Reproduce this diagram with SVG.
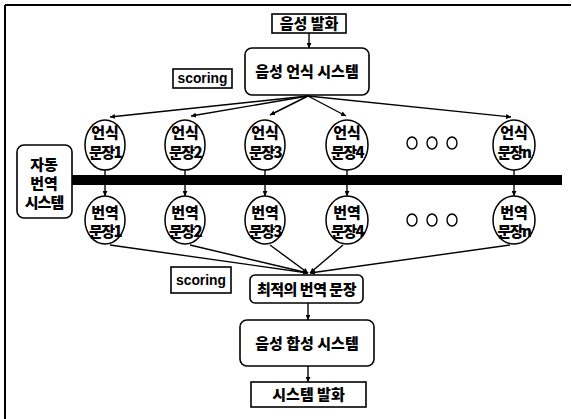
<svg xmlns="http://www.w3.org/2000/svg" width="572" height="419" viewBox="0 0 572 419">
<style>
.box{fill:#fff;stroke:#000;stroke-width:1.6}
.c{fill:#fff;stroke:#000;stroke-width:1.5}
.t{font-family:"Noto Sans CJK KR","Noto Sans",sans-serif;font-weight:900;fill:#000;text-anchor:middle}
.s{font-family:"Liberation Sans",Arial,sans-serif;font-weight:bold;fill:#000;text-anchor:middle;font-size:14px}
.ln{stroke:#000;stroke-width:1.4;fill:none}
.dot{fill:#fff;stroke:#000;stroke-width:1.4}
.ct{font-size:15px}
.cn{font-size:15px;letter-spacing:-1.5px}
</style>
<defs>
<marker id="ar" viewBox="0 0 10 10" refX="10" refY="5" markerWidth="5" markerHeight="5" orient="auto-start-reverse" markerUnits="userSpaceOnUse">
<path d="M0,0 L10,5 L0,10 z" fill="#000"/>
</marker>
</defs>
<rect width="572" height="419" fill="#fff"/>
<path d="M5,5 H571 M5,5 V419" stroke="#000" stroke-width="2" fill="none"/>

<g id="connectors">
<line class="ln" x1="309" y1="33" x2="309" y2="48" marker-end="url(#ar)"/>
<line class="ln" x1="308" y1="96" x2="110" y2="117" marker-end="url(#ar)"/>
<line class="ln" x1="308" y1="96" x2="191" y2="116" marker-end="url(#ar)"/>
<line class="ln" x1="308" y1="96" x2="270" y2="115" marker-end="url(#ar)"/>
<line class="ln" x1="308" y1="96" x2="346" y2="116" marker-end="url(#ar)"/>
<line class="ln" x1="308" y1="96" x2="511" y2="117" marker-end="url(#ar)"/>
<line class="ln" x1="105" y1="170" x2="105" y2="196" marker-end="url(#ar)"/>
<line class="ln" x1="185" y1="170" x2="185" y2="196" marker-end="url(#ar)"/>
<line class="ln" x1="265" y1="170" x2="265" y2="196" marker-end="url(#ar)"/>
<line class="ln" x1="347" y1="170" x2="347" y2="196" marker-end="url(#ar)"/>
<line class="ln" x1="514" y1="170" x2="514" y2="196" marker-end="url(#ar)"/>
<rect x="72" y="175" width="490" height="10" fill="#000"/>
<line class="ln" x1="110" y1="245" x2="308" y2="273" marker-end="url(#ar)"/>
<line class="ln" x1="190" y1="245" x2="308" y2="273" marker-end="url(#ar)"/>
<line class="ln" x1="270" y1="245" x2="308" y2="273" marker-end="url(#ar)"/>
<line class="ln" x1="343" y1="245" x2="310" y2="273" marker-end="url(#ar)"/>
<line class="ln" x1="510" y1="245" x2="310" y2="273" marker-end="url(#ar)"/>
<line class="ln" x1="308" y1="303" x2="308" y2="320" marker-end="url(#ar)"/>
<line class="ln" x1="308" y1="366" x2="308" y2="382" marker-end="url(#ar)"/>
</g>

<g id="speech_in">
<rect class="box" x="272" y="14" width="74" height="19"/>
<text class="t" x="309" y="29" font-size="15">음성 발화</text>
</g>
<g id="asr">
<rect class="box" x="245" y="48" width="124" height="47" rx="7"/>
<text class="t" x="307" y="77" font-size="15">음성 언식 시스템</text>
</g>
<g id="scoring1">
<rect class="box" x="173" y="69" width="59" height="19"/>
<text class="s" x="202.5" y="83" textLength="50" lengthAdjust="spacingAndGlyphs">scoring</text>
</g>
<g id="mt">
<rect class="box" x="17" y="145" width="55" height="73" rx="7"/>
<text class="t" x="44" y="170" font-size="15">자동</text>
<text class="t" x="44" y="189" font-size="15">번역</text>
<text class="t" x="44" y="208" font-size="15" letter-spacing="-1">시스템</text>
</g>

<g id="rec1"><ellipse class="c" cx="105" cy="145" rx="20" ry="25"/><text class="t ct" x="105" y="138">언식</text><text class="t cn" x="105" y="158">문장1</text></g>
<g id="rec2"><ellipse class="c" cx="185" cy="145" rx="20" ry="25"/><text class="t ct" x="185" y="138">언식</text><text class="t cn" x="185" y="158">문장2</text></g>
<g id="rec3"><ellipse class="c" cx="265" cy="145" rx="20" ry="25"/><text class="t ct" x="265" y="138">언식</text><text class="t cn" x="265" y="158">문장3</text></g>
<g id="rec4"><ellipse class="c" cx="347" cy="145" rx="21" ry="25"/><text class="t ct" x="347" y="138">언식</text><text class="t cn" x="347" y="158">문장4</text></g>
<g id="recn"><ellipse class="c" cx="514" cy="145" rx="21" ry="25"/><text class="t ct" x="514" y="138">언식</text><text class="t cn" x="514" y="158">문장n</text></g>
<g id="dots1"><ellipse class="dot" cx="412" cy="143" rx="5" ry="6"/><ellipse class="dot" cx="432" cy="143" rx="5" ry="6"/><ellipse class="dot" cx="452" cy="143" rx="5" ry="6"/></g>

<g id="tr1"><ellipse class="c" cx="105" cy="220" rx="20" ry="24"/><text class="t ct" x="105" y="218">번역</text><text class="t cn" x="105" y="237">문장1</text></g>
<g id="tr2"><ellipse class="c" cx="185" cy="220" rx="20" ry="24"/><text class="t ct" x="185" y="218">번역</text><text class="t cn" x="185" y="237">문장2</text></g>
<g id="tr3"><ellipse class="c" cx="265" cy="220" rx="20" ry="24"/><text class="t ct" x="265" y="218">번역</text><text class="t cn" x="265" y="237">문장3</text></g>
<g id="tr4"><ellipse class="c" cx="347" cy="220" rx="21" ry="24"/><text class="t ct" x="347" y="218">번역</text><text class="t cn" x="347" y="237">문장4</text></g>
<g id="trn"><ellipse class="c" cx="514" cy="220" rx="21" ry="24"/><text class="t ct" x="514" y="218">번역</text><text class="t cn" x="514" y="237">문장n</text></g>
<g id="dots2"><ellipse class="dot" cx="412" cy="220" rx="5" ry="6"/><ellipse class="dot" cx="432" cy="220" rx="5" ry="6"/><ellipse class="dot" cx="452" cy="220" rx="5" ry="6"/></g>

<g id="scoring2">
<rect class="box" x="171" y="267" width="60" height="26"/>
<text class="s" x="201" y="285" textLength="50" lengthAdjust="spacingAndGlyphs">scoring</text>
</g>
<g id="best">
<rect class="box" x="250" y="275" width="113" height="28" rx="5"/>
<text class="t" x="306.5" y="295" font-size="15" letter-spacing="-0.5">최적의 번역 문장</text>
</g>
<g id="tts">
<rect class="box" x="240" y="320" width="134" height="46" rx="7"/>
<text class="t" x="307" y="349" font-size="15">음성 합성 시스템</text>
</g>
<g id="speech_out">
<rect class="box" x="251" y="382" width="115" height="25"/>
<text class="t" x="308.5" y="400" font-size="15">시스템 발화</text>
</g>
</svg>
